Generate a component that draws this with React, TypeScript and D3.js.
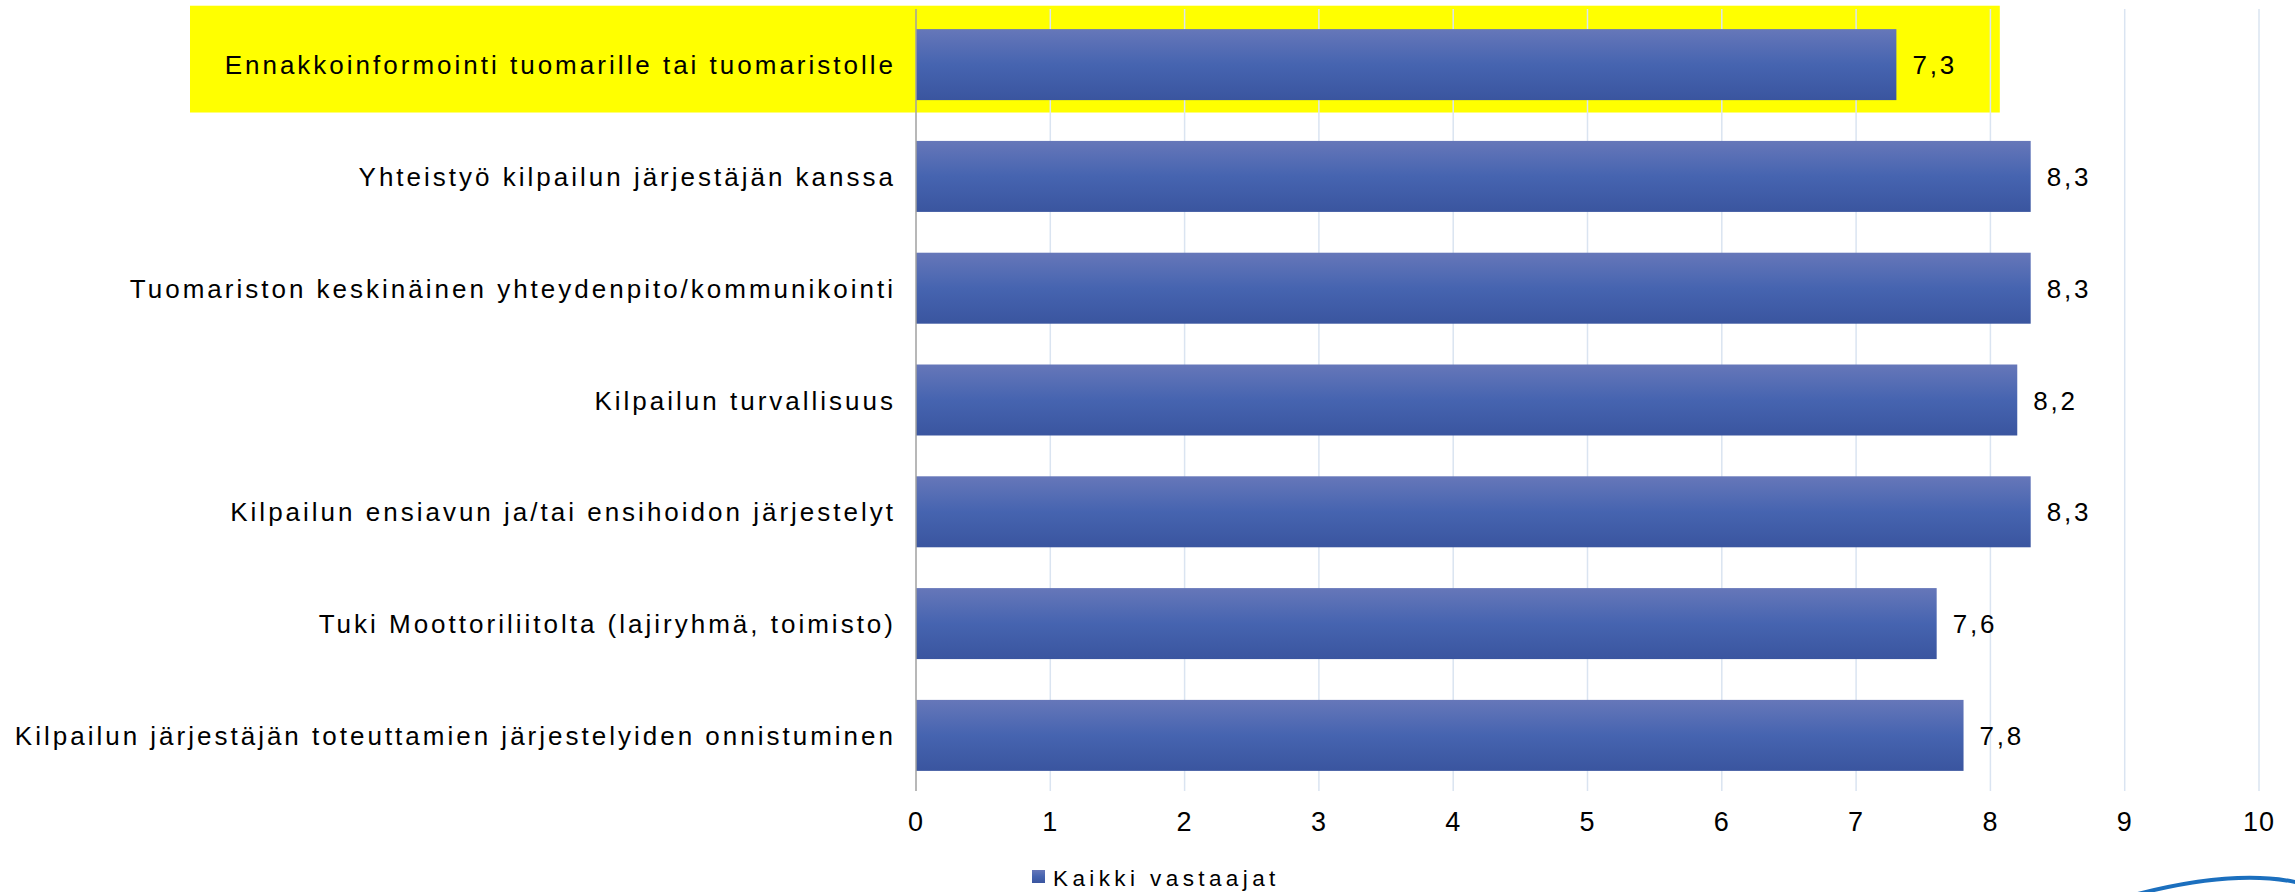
import React, { useEffect, useRef } from 'react'
import * as d3 from 'd3'

const categories = [
  'Ennakkoinformointi tuomarille tai tuomaristolle',
  'Yhteistyö kilpailun järjestäjän kanssa',
  'Tuomariston keskinäinen yhteydenpito/kommunikointi',
  'Kilpailun turvallisuus',
  'Kilpailun ensiavun ja/tai ensihoidon järjestelyt',
  'Tuki Moottoriliitolta (lajiryhmä, toimisto)',
  'Kilpailun järjestäjän toteuttamien järjestelyiden onnistuminen',
]
const values = [7.3, 8.3, 8.3, 8.2, 8.3, 7.6, 7.8]
const seriesName = 'Kaikki vastaajat'
const xTicks = [0, 1, 2, 3, 4, 5, 6, 7, 8, 9, 10]
const highlighted = 'Ennakkoinformointi tuomarille tai tuomaristolle'
const highlightEnd = 8.07

export default function App() {
  const svgRef = useRef<SVGSVGElement>(null)
  const width = 2295
  const height = 892

  useEffect(() => {
    if (!svgRef.current) return
    const svg = d3.select(svgRef.current)
    svg.selectAll('*').remove()

    const font = '"Liberation Sans", Arial, sans-serif'

    const x = d3.scaleLinear().domain([0, 10]).range([916, 2259])
    const y = d3.scaleBand<string>()
      .domain(categories)
      .range([9, 791])
      .paddingInner(0.365)
      .paddingOuter(0.18)

    const step = y.step()

    // gradient for bars
    const defs = svg.append('defs')
    const grad = defs.append('linearGradient')
      .attr('id', 'barGrad')
      .attr('x1', 0).attr('y1', 0).attr('x2', 0).attr('y2', 1)
    grad.append('stop').attr('offset', '0%').attr('stop-color', '#6677b9')
    grad.append('stop').attr('offset', '50%').attr('stop-color', '#4664b0')
    grad.append('stop').attr('offset', '100%').attr('stop-color', '#3a559f')

    // yellow highlight behind the first row
    const hy = y(highlighted)!
    const pad = (step - y.bandwidth()) / 2
    svg.append('rect')
      .attr('x', 190)
      .attr('y', hy - pad - 3)
      .attr('width', x(highlightEnd) - 190)
      .attr('height', step - 5)
      .attr('fill', '#ffff00')

    // gridlines
    svg.append('g')
      .selectAll('line')
      .data(xTicks.slice(1))
      .enter()
      .append('line')
      .attr('x1', d => x(d))
      .attr('x2', d => x(d))
      .attr('y1', 9)
      .attr('y2', 791)
      .attr('stroke', '#dae4f1')
      .attr('stroke-width', 1.5)

    // bars
    svg.append('g')
      .selectAll('rect')
      .data(categories)
      .enter()
      .append('rect')
      .attr('x', x(0))
      .attr('y', d => y(d)!)
      .attr('width', (d, i) => x(values[i]) - x(0))
      .attr('height', y.bandwidth())
      .attr('fill', 'url(#barGrad)')

    // axis line
    svg.append('line')
      .attr('x1', x(0)).attr('x2', x(0))
      .attr('y1', 9).attr('y2', 791)
      .attr('stroke', '#a0a0a0')
      .attr('stroke-width', 1.5)

    // category labels
    svg.append('g')
      .selectAll('text')
      .data(categories)
      .enter()
      .append('text')
      .attr('x', 896)
      .attr('y', d => y(d)! + y.bandwidth() / 2 + 9.5)
      .attr('text-anchor', 'end')
      .attr('font-family', font)
      .attr('font-size', 26)
      .attr('letter-spacing', 3)
      .attr('fill', '#000')
      .text(d => d)

    // value labels
    svg.append('g')
      .selectAll('text')
      .data(categories)
      .enter()
      .append('text')
      .attr('x', (d, i) => x(values[i]) + 16)
      .attr('y', d => y(d)! + y.bandwidth() / 2 + 9.5)
      .attr('font-family', font)
      .attr('font-size', 26)
      .attr('letter-spacing', 2.8)
      .attr('fill', '#000')
      .text((d, i) => d3.format('.1f')(values[i]).replace('.', ','))

    // x tick labels
    svg.append('g')
      .selectAll('text')
      .data(xTicks)
      .enter()
      .append('text')
      .attr('x', d => x(d))
      .attr('y', 831)
      .attr('text-anchor', 'middle')
      .attr('font-family', font)
      .attr('font-size', 27)
      .attr('letter-spacing', 1)
      .attr('fill', '#000')
      .text(d => String(d))

    // legend
    const legend = svg.append('g').attr('transform', 'translate(1032,870)')
    legend.append('rect')
      .attr('width', 13)
      .attr('height', 13)
      .attr('fill', 'url(#barGrad)')
    legend.append('text')
      .attr('x', 21)
      .attr('y', 16)
      .attr('font-family', font)
      .attr('font-size', 22.5)
      .attr('letter-spacing', 4.4)
      .attr('fill', '#000')
      .text(seriesName)

    // logo swoosh in the corner
    svg.append('path')
      .attr('d', 'M2130,896 Q2235,868 2300,883')
      .attr('fill', 'none')
      .attr('stroke', '#1b6fbe')
      .attr('stroke-width', 4)
  }, [])

  return (
    <svg
      ref={svgRef}
      width={width}
      height={height}
      style={{ position: 'absolute', left: 0, top: 0, background: '#fff' }}
    />
  )
}
